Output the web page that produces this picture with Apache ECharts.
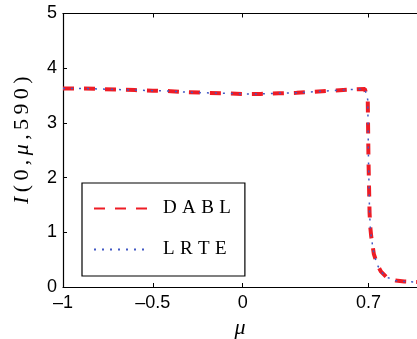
<!DOCTYPE html>
<html><head><meta charset="utf-8">
<script src="https://cdn.jsdelivr.net/npm/echarts@6/dist/echarts.min.js"></script>
<style>html,body{margin:0;padding:0;background:#fff}#c{width:417px;height:339px}</style>
</head><body><div id="c"></div>
<script>
var mu   = [-1, -0.9, -0.8, -0.7, -0.6, -0.5, -0.4, -0.3, -0.2, -0.1, 0, 0.1, 0.2, 0.3, 0.4, 0.5, 0.6, 0.68, 0.69, 0.696, 0.70, 0.706, 0.71, 0.715, 0.73, 0.75, 0.77, 0.8, 0.85, 0.9, 0.97];
var dabl = [3.63, 3.63, 3.62, 3.61, 3.60, 3.59, 3.58, 3.56, 3.55, 3.54, 3.53, 3.53, 3.54, 3.55, 3.57, 3.59, 3.61, 3.62, 3.62, 3.42, 2.33, 1.36, 1.1, 0.93, 0.6, 0.4, 0.28, 0.18, 0.12, 0.1, 0.09];
var lrte = [3.63, 3.63, 3.62, 3.61, 3.60, 3.59, 3.58, 3.56, 3.55, 3.54, 3.53, 3.53, 3.54, 3.55, 3.57, 3.59, 3.61, 3.62, 3.62, 3.42, 2.33, 1.36, 1.1, 0.93, 0.6, 0.4, 0.28, 0.18, 0.12, 0.1, 0.09];
var xTicks = [-1, -0.5, 0, 0.7];
var seriesNames = ['DABL', 'LRTE'];

function pairs(xs, ys){ return xs.map(function(x,i){ return [x, ys[i]]; }); }
var chart = echarts.init(document.getElementById('c'), null, {renderer:'canvas'});
var tickFont = {fontFamily:'Liberation Sans', fontSize:18, color:'#000'};
var ts = '\u2009';
var yName = '{i|I}' + ts + '(' + ts + '0' + ts + ',\u2009' + '{i|\u03bc}' + ts + ',\u2009' + '5' + ts + '9' + ts + '0' + ts + ')';
chart.setOption({
  animation:false,
  grid:{left:63, top:13.5, right:0, bottom:52, containLabel:false, outerBoundsMode:'none'},
  legend:{
    orient:'vertical', left:82, top:183, width:160,
    data:seriesNames,
    backgroundColor:'#fff', borderColor:'#000', borderWidth:1.2,
    padding:[16, 14, 17, 11], itemGap:22, itemWidth:56, itemHeight:10,
    itemStyle:{opacity:0},
    textStyle:{fontFamily:'Liberation Serif', fontSize:19, color:'#000', padding:[0,0,0,8]},
    formatter:function(n){ return n.split('').join('\u2009\u200a'); }
  },
  xAxis:[{
    type:'value', min:-1, max:0.97, position:'bottom',
    name:'\u03bc', nameLocation:'middle', nameGap:29,
    nameTextStyle:{fontFamily:'Liberation Serif', fontStyle:'italic', fontSize:22, color:'#000'},
    axisLine:{show:true, onZero:false, lineStyle:{color:'#000', width:1.2}},
    axisTick:{show:true, inside:true, length:4, customValues:xTicks, lineStyle:{color:'#000'}},
    axisLabel:{show:true, customValues:xTicks, margin:7, formatter:function(v){ return v<0 ? '\u2013'+Math.abs(v) : String(v); }, ...tickFont},
    splitLine:{show:false}
  },{
    type:'value', min:-1, max:0.97, position:'top',
    axisLine:{show:true, onZero:false, lineStyle:{color:'#000', width:1.2}},
    axisTick:{show:true, inside:true, length:4, customValues:xTicks, lineStyle:{color:'#000'}},
    axisLabel:{show:false}, splitLine:{show:false}
  }],
  yAxis:{
    type:'value', min:0, max:5, interval:1,
    name:yName, nameLocation:'middle', nameGap:30, nameRotate:90,
    nameTextStyle:{fontFamily:'Liberation Serif', fontSize:22, color:'#000', padding:[0,0,0,20],
      rich:{i:{fontFamily:'Liberation Serif', fontStyle:'italic', fontSize:22, color:'#000'}}},
    axisLine:{show:true, onZero:false, lineStyle:{color:'#000', width:1.2}},
    axisTick:{show:true, inside:true, length:4, lineStyle:{color:'#000'}},
    axisLabel:{margin:6, ...tickFont},
    splitLine:{show:false}
  },
  series:[{
    name:seriesNames[0], type:'line', data:pairs(mu, dabl), showSymbol:false, symbol:'none',
    lineStyle:{color:'#ee1c25', width:4, type:[11,10]}, itemStyle:{color:'#ee1c25'}
  },{
    name:seriesNames[1], type:'line', data:pairs(mu, lrte), showSymbol:false, symbol:'none',
    lineStyle:{color:'#4259c4', width:1.5, type:[2,6]}, itemStyle:{color:'#4259c4'}
  }]
});
</script></body></html>
